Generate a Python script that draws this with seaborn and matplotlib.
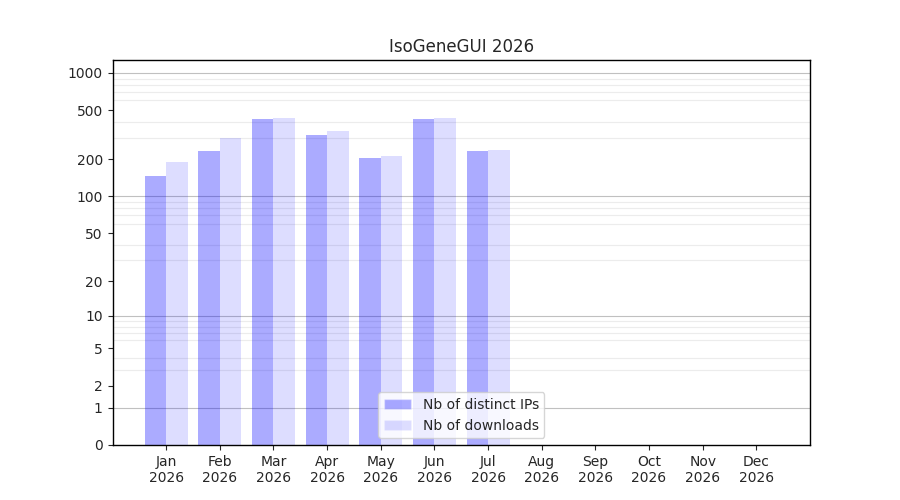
import numpy as np
import pandas as pd
import matplotlib
matplotlib.use("Agg")
import matplotlib.pyplot as plt
import seaborn as sns
from matplotlib.patches import Patch

months = ["Jan", "Feb", "Mar", "Apr", "May", "Jun", "Jul", "Aug", "Sep", "Oct", "Nov", "Dec"]
year = "2026"
distinct_ips = [147, 235, 425, 315, 206, 428, 235, 0, 0, 0, 0, 0]
downloads = [191, 300, 433, 340, 213, 430, 240, 0, 0, 0, 0, 0]
series_names = ["Nb of distinct IPs", "Nb of downloads"]
ytick_values = [0, 1, 2, 5, 10, 20, 50, 100, 200, 500, 1000]
decades = [1, 10, 100, 1000]

df = pd.DataFrame({
    "month": months * 2,
    "value": distinct_ips + downloads,
    "series": [series_names[0]] * 12 + [series_names[1]] * 12,
})

sns.set_style("ticks")
plt.rcParams['font.family'] = ['DejaVu Sans']

fig, ax = plt.subplots(figsize=(9, 5), dpi=100)

def fwd(y):
    return np.log10(np.maximum(y, 0) + 1)

def inv(y):
    return 10 ** y - 1

sns.barplot(data=df, x="month", y="value", hue="series", palette=["blue", "blue"],
            ax=ax, legend=False, saturation=1)

alphas = [0.33, 0.135]
for cont, a in zip(ax.containers, alphas):
    for bar in cont:
        bar.set_alpha(a)
        bar.set_edgecolor("none")

ax.set_yscale("function", functions=(fwd, inv))
ax.set_ylim(0, 1270)
ax.set_xlim(-1, 12)

minor = [m * d for d in [1, 10, 100] for m in range(2, 10)]
ax.set_yticks(ytick_values)
ax.set_yticklabels([str(v) for v in ytick_values])
ax.set_yticks(minor, minor=True)
ax.tick_params(axis="y", which="minor", length=0)
ax.yaxis.grid(True, which="minor", color="#ececec", linewidth=0.8)
ax.yaxis.grid(False, which="major")
for d in decades:
    ax.axhline(d, color="#c0c0c0", linewidth=0.8, zorder=0.5)

ax.set_xticks(range(len(months)))
ax.set_xticklabels([m + "\n" + year for m in months])
ax.set_xlabel("")
ax.set_ylabel("")
ax.set_title("IsoGeneGUI " + year)
for s in ax.spines.values():
    s.set_visible(True)
    s.set_color("black")
    s.set_linewidth(1)

handles = [Patch(facecolor="blue", alpha=a) for a in alphas]
ax.legend(handles, series_names, loc="lower center", frameon=True)

fig.subplots_adjust(left=0.125, right=0.9, top=0.88, bottom=0.11)
fig.savefig("out.png", dpi=100)
